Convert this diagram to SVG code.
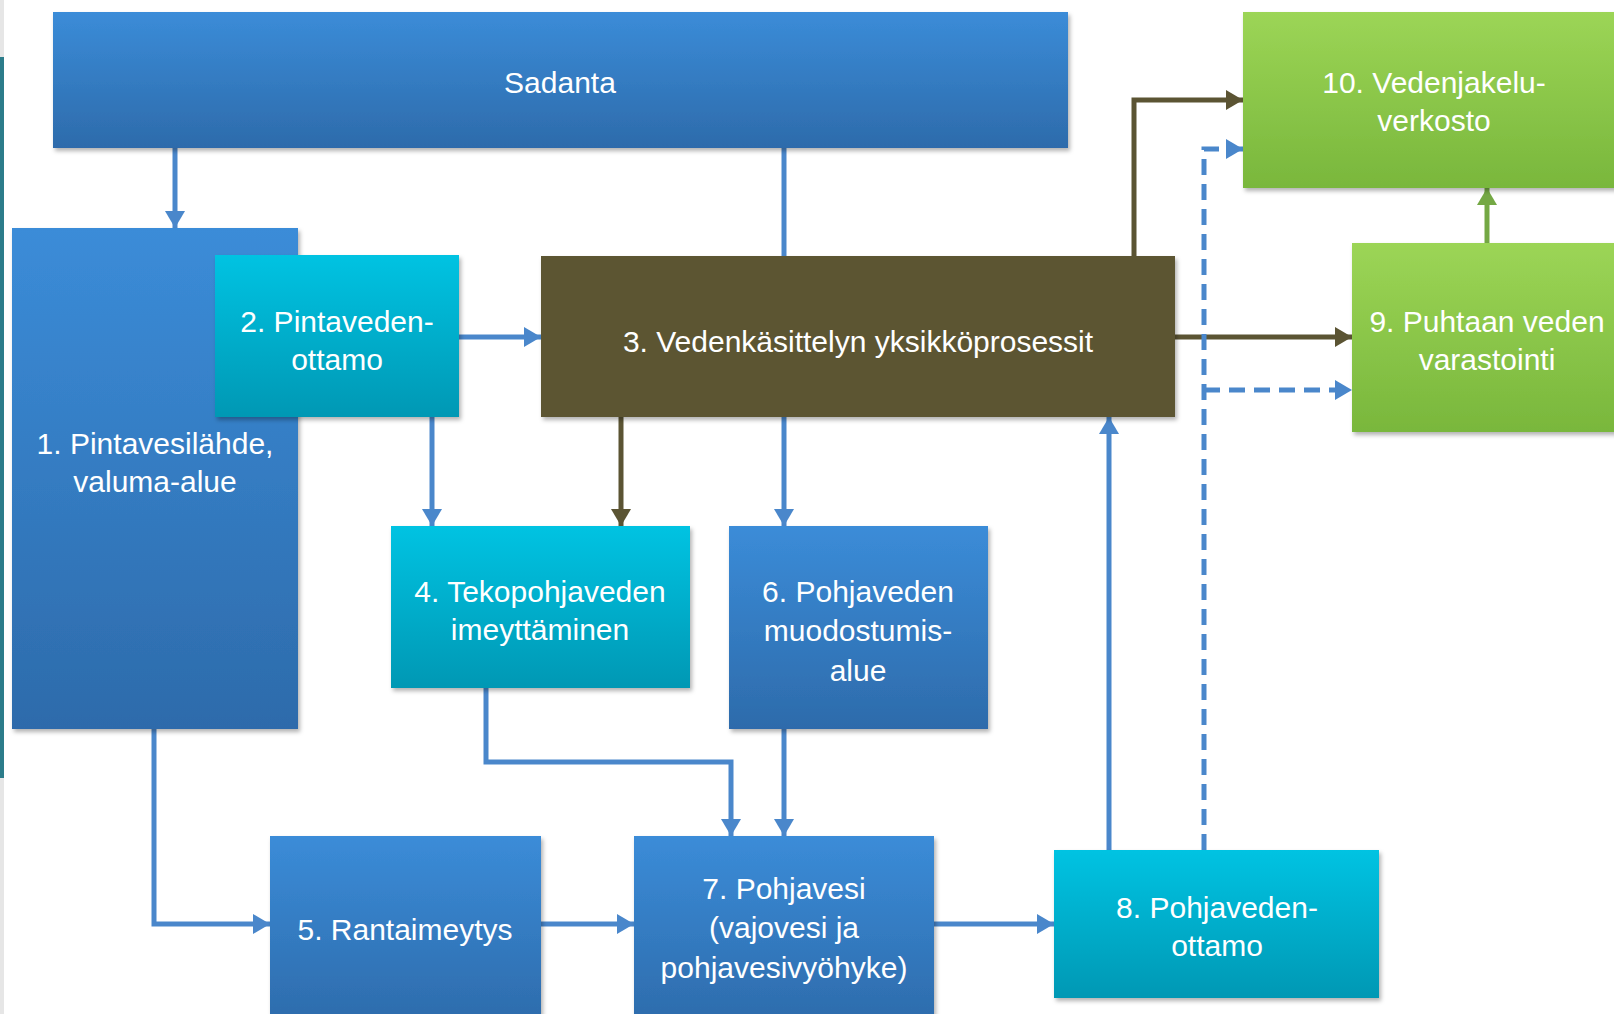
<svg xmlns="http://www.w3.org/2000/svg" width="1614" height="1014" viewBox="0 0 1614 1014">
<defs>
<linearGradient id="gBlue" x1="0" y1="0" x2="0" y2="1"><stop offset="0" stop-color="#3b8cd8"/><stop offset="1" stop-color="#2d6bab"/></linearGradient>
<linearGradient id="gCyan" x1="0" y1="0" x2="0" y2="1"><stop offset="0" stop-color="#00c3e2"/><stop offset="1" stop-color="#0298b4"/></linearGradient>
<linearGradient id="gGreen" x1="0" y1="0" x2="0" y2="1"><stop offset="0" stop-color="#9cd556"/><stop offset="1" stop-color="#79b73c"/></linearGradient>
<filter id="sh" x="-5%" y="-5%" width="112%" height="115%"><feDropShadow dx="2" dy="3" stdDeviation="2" flood-color="#000" flood-opacity="0.3"/></filter>
<marker id="aB" markerUnits="userSpaceOnUse" markerWidth="20" markerHeight="22" refX="17" refY="11" orient="auto"><path d="M0,1 L17,11 L0,21 z" fill="#4a87cb"/></marker>
<marker id="aD" markerUnits="userSpaceOnUse" markerWidth="20" markerHeight="22" refX="17" refY="11" orient="auto"><path d="M0,1 L17,11 L0,21 z" fill="#5b5433"/></marker>
<marker id="aG" markerUnits="userSpaceOnUse" markerWidth="20" markerHeight="22" refX="17" refY="11" orient="auto"><path d="M0,1 L17,11 L0,21 z" fill="#74a844"/></marker>
</defs>
<style>
.t{font-family:"Liberation Sans",Arial,sans-serif;font-size:30px;fill:#ffffff;text-anchor:middle}
.cb{fill:none;stroke:#4a87cb;stroke-width:5}
.cd{fill:none;stroke:#5b5433;stroke-width:5}
.cg{fill:none;stroke:#74a844;stroke-width:5}
.dash{stroke-dasharray:16 9}
</style>
<rect x="0" y="0" width="1614" height="1014" fill="#ffffff"/>
<rect x="0" y="0" width="4" height="1014" fill="#e6e6e6"/>
<rect x="0" y="57" width="4" height="721" fill="#2c7c8a"/>

<g id="connectors">
<path class="cb" d="M175,148 V228" marker-end="url(#aB)"/>
<path class="cb" d="M784,148 V256"/>
<path class="cb" d="M459,337 H541" marker-end="url(#aB)"/>
<path class="cb" d="M432,417 V526" marker-end="url(#aB)"/>
<path class="cd" d="M621,417 V526" marker-end="url(#aD)"/>
<path class="cb" d="M784,417 V526" marker-end="url(#aB)"/>
<path class="cd" d="M1134,256 V100 H1243" marker-end="url(#aD)"/>
<path class="cd" d="M1175,337 H1352" marker-end="url(#aD)"/>
<path class="cg" d="M1487,243 V188" marker-end="url(#aG)"/>
<path class="cb" d="M1109,850 V417" marker-end="url(#aB)"/>
<path class="cb dash" d="M1204,850 V149 H1243" marker-end="url(#aB)"/>
<path class="cb dash" d="M1204,390 H1352" marker-end="url(#aB)"/>
<path class="cb" d="M154,729 V924 H270" marker-end="url(#aB)"/>
<path class="cb" d="M486,688 V762 H731 V836" marker-end="url(#aB)"/>
<path class="cb" d="M784,729 V836" marker-end="url(#aB)"/>
<path class="cb" d="M541,924 H634" marker-end="url(#aB)"/>
<path class="cb" d="M934,924 H1054" marker-end="url(#aB)"/>
</g>

<g id="n0"><rect x="53" y="12" width="1015" height="136" fill="url(#gBlue)" filter="url(#sh)"/><text class="t" x="560" y="93">Sadanta</text></g>
<g id="n1"><rect x="12" y="228" width="286" height="501" fill="url(#gBlue)" filter="url(#sh)"/><text class="t" x="155" y="454">1. Pintavesilähde,</text><text class="t" x="155" y="492">valuma-alue</text></g>
<g id="n2"><rect x="215" y="255" width="244" height="162" fill="url(#gCyan)" filter="url(#sh)"/><text class="t" x="337" y="332">2. Pintaveden-</text><text class="t" x="337" y="370">ottamo</text></g>
<g id="n3"><rect x="541" y="256" width="634" height="161" fill="#5b5433" filter="url(#sh)"/><text class="t" x="858" y="352">3. Vedenkäsittelyn yksikköprosessit</text></g>
<g id="n4"><rect x="391" y="526" width="299" height="162" fill="url(#gCyan)" filter="url(#sh)"/><text class="t" x="540" y="602">4. Tekopohjaveden</text><text class="t" x="540" y="640">imeyttäminen</text></g>
<g id="n5"><rect x="270" y="836" width="271" height="190" fill="url(#gBlue)" filter="url(#sh)"/><text class="t" x="405" y="940">5. Rantaimeytys</text></g>
<g id="n6"><rect x="729" y="526" width="259" height="203" fill="url(#gBlue)" filter="url(#sh)"/><text class="t" x="858" y="602">6. Pohjaveden</text><text class="t" x="858" y="641">muodostumis-</text><text class="t" x="858" y="681">alue</text></g>
<g id="n7"><rect x="634" y="836" width="300" height="190" fill="url(#gBlue)" filter="url(#sh)"/><text class="t" x="784" y="899">7. Pohjavesi</text><text class="t" x="784" y="938">(vajovesi ja</text><text class="t" x="784" y="978">pohjavesivyöhyke)</text></g>
<g id="n8"><rect x="1054" y="850" width="325" height="148" fill="url(#gCyan)" filter="url(#sh)"/><text class="t" x="1217" y="918">8. Pohjaveden-</text><text class="t" x="1217" y="956">ottamo</text></g>
<g id="n9"><rect x="1352" y="243" width="280" height="189" fill="url(#gGreen)" filter="url(#sh)"/><text class="t" x="1487" y="332">9. Puhtaan veden</text><text class="t" x="1487" y="370">varastointi</text></g>
<g id="n10"><rect x="1243" y="12" width="390" height="176" fill="url(#gGreen)" filter="url(#sh)"/><text class="t" x="1434" y="93">10. Vedenjakelu-</text><text class="t" x="1434" y="131">verkosto</text></g>
</svg>
